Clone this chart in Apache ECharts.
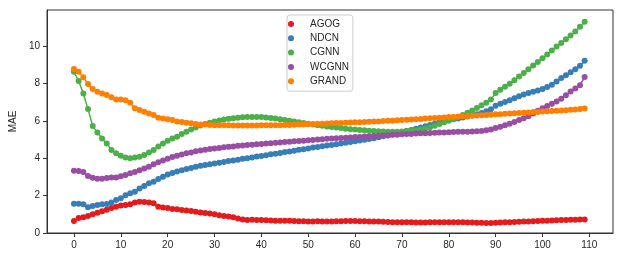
<!DOCTYPE html>
<html>
<head>
<meta charset="utf-8">
<script src="https://cdn.jsdelivr.net/npm/echarts@6/dist/echarts.min.js"></script>
<style>html,body{margin:0;padding:0;background:#fff}#c{width:623px;height:258px}</style>
</head>
<body>
<div id="c"></div>
<script>
var seriesNames = ['AGOG', 'NDCN', 'CGNN', 'WCGNN', 'GRAND'];
var colors = ['#e41a1c', '#377eb8', '#4daf4a', '#984ea3', '#ff7f00'];
var xTicks = [0, 10, 20, 30, 40, 50, 60, 70, 80, 90, 100, 110];
var yTicks = [0, 2, 4, 6, 8, 10];

var agog = [0.64,0.80,0.84,0.91,1.00,1.09,1.16,1.25,1.34,1.41,1.48,1.50,1.54,1.63,1.68,1.66,1.64,1.59,1.41,1.36,1.34,1.29,1.27,1.23,1.20,1.18,1.14,
1.10,1.07,1.04,1.00,0.95,0.91,0.88,0.84,0.78,0.72,0.70,0.71,0.70,0.69,0.68,0.67,0.66,0.66,0.66,0.65,0.64,0.63,0.63,0.62,0.62,0.63,0.61,0.61,
0.62,0.63,0.63,0.64,0.64,0.64,0.63,0.63,0.62,0.62,0.61,0.60,0.59,0.58,0.58,0.57,0.57,0.57,0.56,0.56,0.56,0.57,0.57,0.57,0.57,0.58,0.58,0.57,0.57,0.56,0.56,0.55,0.55,0.53,0.54,0.55,0.56,0.57,0.58,0.59,0.60,0.61,0.62,0.63,0.64,0.65,0.66,0.67,0.68,0.69,0.70,0.71,0.71,0.72,0.72];

var ndcn = [1.57,1.57,1.54,1.38,1.45,1.50,1.54,1.55,1.64,1.77,1.86,2.02,2.13,2.21,2.39,2.52,2.66,2.75,2.89,3.02,3.13,3.21,3.29,3.36,3.43,3.48,3.55,
3.60,3.64,3.69,3.73,3.77,3.81,3.86,3.89,3.93,3.98,4.01,4.05,4.10,4.13,4.17,4.22,4.25,4.29,4.34,4.37,4.41,4.46,4.49,4.53,4.58,4.61,4.65,4.69,
4.72,4.76,4.80,4.84,4.88,4.92,4.96,5.00,5.04,5.08,5.13,5.18,5.23,5.28,5.34,5.40,5.46,5.52,5.58,5.65,5.72,5.79,5.86,5.93,6.00,6.05,6.10,6.14,6.19,6.24,6.29,6.36,6.43,6.52,6.63,6.82,6.92,7.02,7.12,7.22,7.33,7.42,7.50,7.57,7.64,7.72,7.82,7.95,8.12,8.30,8.45,8.62,8.78,8.96,9.23];

var cgnn = [8.64,8.14,7.48,6.64,5.73,5.38,5.07,4.80,4.45,4.27,4.14,4.05,4.00,4.04,4.09,4.18,4.32,4.45,4.63,4.80,4.95,5.07,5.16,5.30,5.43,5.55,5.66,
5.76,5.84,5.91,5.97,6.03,6.08,6.12,6.15,6.18,6.20,6.21,6.22,6.22,6.21,6.19,6.16,6.13,6.10,6.06,6.02,5.98,5.94,5.90,5.86,5.82,5.78,5.75,5.71,
5.68,5.65,5.62,5.59,5.56,5.54,5.52,5.50,5.48,5.46,5.45,5.44,5.43,5.43,5.43,5.44,5.46,5.48,5.51,5.55,5.60,5.67,5.75,5.84,5.93,6.02,6.11,6.21,6.32,6.44,6.57,6.70,6.84,6.98,7.15,7.50,7.68,7.84,8.00,8.18,8.38,8.58,8.78,8.97,9.16,9.36,9.56,9.78,9.99,10.18,10.38,10.58,10.80,11.05,11.32];

var wcgnn = [3.34,3.32,3.27,3.05,2.96,2.91,2.91,2.95,2.98,2.98,3.04,3.11,3.20,3.27,3.36,3.45,3.55,3.68,3.79,3.88,3.98,4.07,4.14,4.21,4.27,4.32,4.38,
4.42,4.46,4.50,4.53,4.56,4.59,4.62,4.64,4.67,4.69,4.71,4.73,4.75,4.77,4.79,4.81,4.83,4.85,4.87,4.89,4.91,4.93,4.95,4.97,4.99,5.01,5.03,5.05,
5.06,5.08,5.09,5.11,5.12,5.14,5.15,5.17,5.18,5.20,5.21,5.23,5.24,5.26,5.27,5.29,5.30,5.31,5.33,5.34,5.35,5.36,5.37,5.38,5.39,5.40,5.41,5.42,5.42,5.43,5.44,5.45,5.47,5.50,5.55,5.63,5.70,5.78,5.86,5.95,6.05,6.15,6.26,6.40,6.55,6.68,6.80,6.92,7.05,7.20,7.38,7.58,7.75,7.92,8.36];

var grand = [8.79,8.64,8.34,7.98,7.71,7.57,7.48,7.39,7.27,7.16,7.16,7.12,6.98,6.68,6.59,6.50,6.41,6.32,6.18,6.14,6.09,6.05,5.98,5.95,5.91,5.88,5.84,
5.82,5.81,5.79,5.78,5.78,5.77,5.77,5.76,5.76,5.76,5.76,5.76,5.76,5.77,5.77,5.77,5.78,5.78,5.79,5.79,5.80,5.81,5.82,5.83,5.84,5.85,5.86,5.87,
5.88,5.89,5.90,5.91,5.92,5.93,5.94,5.95,5.96,5.97,5.98,6.00,6.01,6.02,6.04,6.05,6.07,6.08,6.10,6.11,6.13,6.15,6.16,6.18,6.19,6.21,6.22,6.24,6.25,6.27,6.28,6.30,6.31,6.33,6.34,6.36,6.37,6.39,6.40,6.42,6.43,6.45,6.46,6.48,6.49,6.51,6.52,6.54,6.55,6.57,6.58,6.60,6.62,6.64,6.67];

var allValues = [agog, ndcn, cgnn, wcgnn, grand];

var FONT = '"Liberation Sans", Arial, "DejaVu Sans", sans-serif';
var TEXT = '#262626';
var EDGE = '#333333';

var chart = echarts.init(document.getElementById('c'), null, {renderer: 'canvas'});
var series = seriesNames.map(function (name, k) {
  return {
    name: name,
    type: 'line',
    data: allValues[k].map(function (v, i) { return [i, v]; }),
    symbol: 'circle',
    symbolSize: 6,
    showSymbol: true,
    animation: false,
    lineStyle: {width: 1.5, color: colors[k]},
    itemStyle: {color: colors[k]},
    emphasis: {disabled: true}
  };
});

chart.setOption({
  animation: false,
  backgroundColor: '#ffffff',
  grid: {left: 40, right: 10, top: 10, bottom: 25, show: true, borderColor: EDGE, borderWidth: 1, backgroundColor: 'transparent'},
  legend: {
    data: seriesNames.map(function (n) { return {name: n, icon: 'circle'}; }),
    orient: 'vertical',
    left: 287,
    top: 15,
    itemWidth: 28,
    itemHeight: 6,
    itemGap: 0.3,
    padding: [2, 4, 3, 1],
    borderColor: '#cccccc',
    borderWidth: 1,
    borderRadius: 3,
    backgroundColor: 'rgba(255,255,255,0.8)',
    textStyle: {fontFamily: FONT, fontSize: 10, color: TEXT, lineHeight: 14}
  },
  xAxis: {
    type: 'value',
    min: -5.75,
    max: 115.05,
    splitLine: {show: false},
    axisLine: {show: true, onZero: false, lineStyle: {color: EDGE, width: 1}},
    axisTick: {show: true, length: 4, inside: false, customValues: xTicks, lineStyle: {color: EDGE}},
    axisLabel: {customValues: xTicks, margin: 7, fontFamily: FONT, fontSize: 10, color: TEXT}
  },
  yAxis: {
    type: 'value',
    min: 0,
    max: 11.95,
    name: 'MAE',
    nameLocation: 'middle',
    nameGap: 23,
    nameTextStyle: {fontFamily: FONT, fontSize: 10, color: TEXT},
    splitLine: {show: false},
    axisLine: {show: true, onZero: false, lineStyle: {color: EDGE, width: 1}},
    axisTick: {show: true, length: 4, inside: false, customValues: yTicks, lineStyle: {color: EDGE}},
    axisLabel: {customValues: yTicks, margin: 7, fontFamily: FONT, fontSize: 10, color: TEXT}
  },
  series: series
});
</script>
</body>
</html>
